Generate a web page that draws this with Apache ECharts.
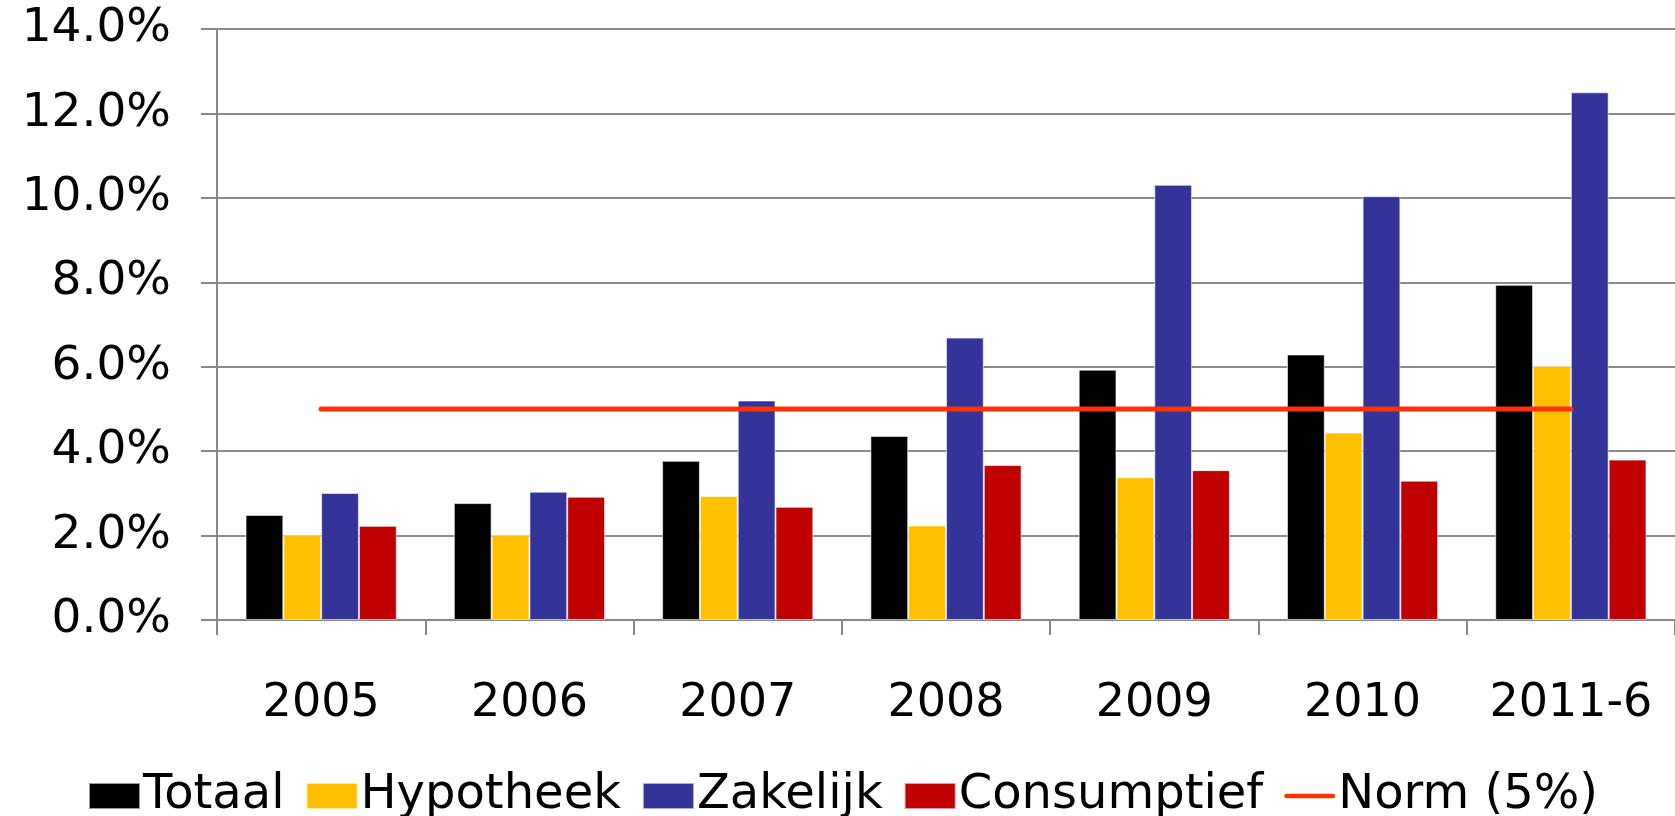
<!DOCTYPE html>
<html>
<head>
<meta charset="utf-8">
<script src="https://cdn.jsdelivr.net/npm/echarts@6/dist/echarts.min.js"></script>
<style>
html,body{margin:0;padding:0;background:#fff;}
#c{width:1675px;height:816px;}
</style>
</head>
<body>
<div id="c"></div>
<script>
const categories = ['2005','2006','2007','2008','2009','2010','2011-6'];
const totaal      = [2.49, 2.77, 3.77, 4.36, 5.93, 6.29, 7.94];
const hypotheek   = [2.01, 2.02, 2.94, 2.24, 3.38, 4.44, 6.02];
const zakelijk    = [3.01, 3.04, 5.20, 6.69, 10.31, 10.04, 12.50];
const consumptief = [2.23, 2.92, 2.68, 3.67, 3.55, 3.30, 3.80];
const norm        = [5, 5, 5, 5, 5, 5, 5];
const yTicks = { min: 0, max: 14, interval: 2 };

const FONT = '"DejaVu Sans", Verdana, sans-serif';
const chart = echarts.init(document.getElementById('c'), null, {renderer:'canvas'});

const barBorder = { borderColor: 'rgba(255,255,255,0.6)', borderWidth: 1 };
function bar(name, data, color){
  return { name, type:'bar', data, barGap:'0%', barCategoryGap:'27.4%',
    itemStyle: Object.assign({ color }, barBorder), emphasis:{disabled:true}, z:2 };
}

chart.setOption({
  animation:false,
  backgroundColor:'#fff',
  textStyle:{ fontFamily: FONT },
  grid:{ left:217, top:29, width:1464, bottom:196, containLabel:false },
  legend:{
    left:83, top:767, itemWidth:51, itemHeight:26, itemGap:21,
    textStyle:{ fontFamily:FONT, fontSize:48, color:'#000', padding:[0,0,0,-2] },
    data:[
      {name:'Totaal', icon:'rect'},
      {name:'Hypotheek', icon:'rect'},
      {name:'Zakelijk', icon:'rect'},
      {name:'Consumptief', icon:'rect'},
      {name:'Norm (5%)', icon:'path://M2.5,0 L53.5,0 A2.5,2.5 0 0 1 53.5,5 L2.5,5 A2.5,2.5 0 0 1 2.5,0 Z',
       itemStyle:{ color:'#FF3300' } }
    ]
  },
  xAxis:{
    type:'category', data:categories,
    axisLine:{ lineStyle:{ color:'#888', width:2 } },
    axisTick:{ show:true, alignWithLabel:false, length:15, lineStyle:{ color:'#888', width:2 } },
    axisLabel:{ fontFamily:FONT, fontSize:46, color:'#000', margin:61, interval:0 },
    splitLine:{ show:false }
  },
  yAxis:{
    type:'value', min:yTicks.min, max:yTicks.max, interval:yTicks.interval,
    axisLine:{ show:true, lineStyle:{ color:'#888', width:2 } },
    axisTick:{ show:true, length:16, lineStyle:{ color:'#888', width:2 } },
    axisLabel:{ fontFamily:FONT, fontSize:47, color:'#000', margin:46,
      formatter: v => v.toFixed(1) + '%' },
    splitLine:{ show:true, lineStyle:{ color:'#8c8c8c', width:2 } }
  },
  series:[
    bar('Totaal', totaal, '#000000'),
    bar('Hypotheek', hypotheek, '#FFC000'),
    bar('Zakelijk', zakelijk, '#333399'),
    bar('Consumptief', consumptief, '#C00000'),
    { name:'Norm (5%)', type:'line', data:norm, symbol:'none', showSymbol:false,
      lineStyle:{ color:'#FF3300', width:5, cap:'round' }, itemStyle:{ color:'#FF3300' },
      emphasis:{disabled:true}, z:5 }
  ]
});
</script>
</body>
</html>
